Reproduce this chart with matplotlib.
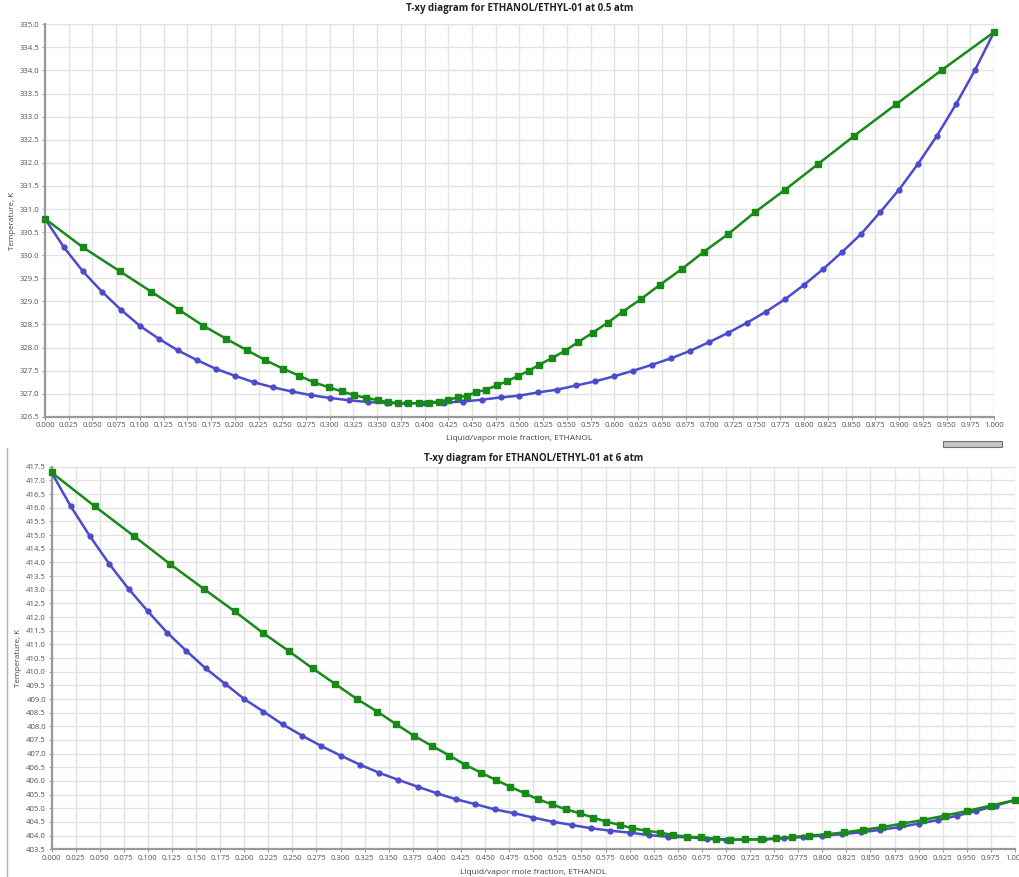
import numpy as np
import matplotlib
matplotlib.use("Agg")
import matplotlib.pyplot as plt
from matplotlib.ticker import MultipleLocator, FormatStrFormatter
from matplotlib.patches import Rectangle
from matplotlib.lines import Line2D

plt.rcParams['font.family'] = ['Open Sans', 'DejaVu Sans']

# liquid mole fraction grid (same for both pressures)
x_liq = [0.00, 0.02, 0.04, 0.06, 0.08, 0.10, 0.12, 0.14, 0.16, 0.18,
         0.20, 0.22, 0.24, 0.26, 0.28, 0.30, 0.32, 0.34, 0.36, 0.38,
         0.40, 0.42, 0.44, 0.46, 0.48, 0.50, 0.52, 0.54, 0.56, 0.58,
         0.60, 0.62, 0.64, 0.66, 0.68, 0.70, 0.72, 0.74, 0.76, 0.78,
         0.80, 0.82, 0.84, 0.86, 0.88, 0.90, 0.92, 0.94, 0.96, 0.98, 1.00]

# 0.5 atm
T_05 = [330.79, 330.17, 329.65, 329.21, 328.82, 328.47, 328.19, 327.94, 327.73, 327.54,
        327.39, 327.25, 327.14, 327.05, 326.97, 326.91, 326.86, 326.82, 326.80, 326.79,
        326.80, 326.81, 326.83, 326.87, 326.92, 326.96, 327.03, 327.09, 327.18, 327.27,
        327.38, 327.50, 327.63, 327.77, 327.93, 328.12, 328.32, 328.54, 328.78, 329.05,
        329.36, 329.70, 330.07, 330.46, 330.93, 331.42, 331.98, 332.59, 333.27, 334.01, 334.83]
y_05 = [0.000, 0.040, 0.079, 0.112, 0.141, 0.167, 0.191, 0.213, 0.232, 0.251,
        0.268, 0.283, 0.299, 0.313, 0.326, 0.338, 0.351, 0.361, 0.372, 0.383,
        0.394, 0.405, 0.415, 0.425, 0.435, 0.445, 0.454, 0.465, 0.476, 0.487,
        0.498, 0.510, 0.521, 0.534, 0.548, 0.562, 0.577, 0.593, 0.609, 0.628,
        0.648, 0.671, 0.694, 0.720, 0.748, 0.780, 0.815, 0.853, 0.897, 0.945, 1.000]

# 6 atm
T_6 = [417.29, 416.05, 414.95, 413.94, 413.03, 412.21, 411.43, 410.76, 410.12, 409.56,
       409.00, 408.54, 408.07, 407.66, 407.28, 406.93, 406.60, 406.30, 406.04, 405.79,
       405.55, 405.33, 405.15, 404.96, 404.82, 404.66, 404.51, 404.39, 404.27, 404.18,
       404.11, 404.02, 403.96, 403.94, 403.88, 403.85, 403.86, 403.86, 403.90, 403.95,
       404.00, 404.05, 404.12, 404.21, 404.31, 404.44, 404.57, 404.73, 404.90, 405.10, 405.30]
y_6 = [0.000, 0.045, 0.086, 0.123, 0.158, 0.190, 0.219, 0.246, 0.271, 0.294,
       0.317, 0.338, 0.358, 0.376, 0.395, 0.413, 0.429, 0.446, 0.461, 0.476,
       0.491, 0.505, 0.519, 0.534, 0.548, 0.562, 0.576, 0.590, 0.603, 0.617,
       0.632, 0.645, 0.660, 0.674, 0.690, 0.704, 0.720, 0.736, 0.752, 0.769,
       0.786, 0.805, 0.823, 0.842, 0.862, 0.883, 0.904, 0.927, 0.950, 0.975, 1.000]

titles = ["T-xy diagram for ETHANOL/ETHYL-01 at 0.5 atm",
          "T-xy diagram for ETHANOL/ETHYL-01 at 6 atm"]

blue = "#4b4bcc"
green = "#178a17"
grid_c = "#e3e3e3"
spine_c = "#9a9a9a"
tick_c = "#555555"

fig = plt.figure(figsize=(10.2, 8.77), dpi=100)
fig.patch.set_facecolor("white")

ax1 = fig.add_axes([0.0441, 0.5247, 0.9304, 0.4476])
ax2 = fig.add_axes([0.0505, 0.0316, 0.9446, 0.4362])

def style(ax, ylo, yhi, title, title_y, xlab_y, ylab_x):
    ax.set_xlim(0, 1)
    ax.set_ylim(ylo, yhi)
    ax.xaxis.set_major_locator(MultipleLocator(0.025))
    ax.yaxis.set_major_locator(MultipleLocator(0.5))
    ax.xaxis.set_major_formatter(FormatStrFormatter("%.3f"))
    ax.yaxis.set_major_formatter(FormatStrFormatter("%.1f"))
    ax.grid(True, color=grid_c, linewidth=1.0, zorder=0)
    ax.set_axisbelow(True)
    for s in ["top", "right"]:
        ax.spines[s].set_visible(False)
    for s in ["left", "bottom"]:
        ax.spines[s].set_color(spine_c)
        ax.spines[s].set_linewidth(1.6)
    ax.tick_params(axis="both", labelsize=5.6, colors=spine_c, labelcolor=tick_c,
                   length=2.5, width=0.8, pad=1.5)
    # light frame on top/right like the grid
    ax.axhline(yhi, color=grid_c, linewidth=1.0, zorder=0)
    ax.axvline(1.0, color=grid_c, linewidth=1.0, zorder=0)
    pos = ax.get_position()
    cx = (pos.x0 + pos.x1) / 2
    fig.text(cx, title_y, title, ha="center", va="center", fontsize=7,
             fontweight="bold", color="#222222")
    fig.text(cx, xlab_y, "Liquid/vapor mole fraction, ETHANOL", ha="center",
             va="center", fontsize=6, color="#444444")
    fig.text(ylab_x, (pos.y0 + pos.y1) / 2, "Temperature, K", ha="center",
             va="center", rotation=90, fontsize=5.8, color="#444444")

style(ax1, 326.5, 335.0, titles[0], 1 - 9 / 877, 1 - 438 / 877, 13 / 1020)
style(ax2, 403.5, 417.5, titles[1], 1 - 458 / 877, 1 - 872 / 877, 19 / 1020)

for ax, T, y in [(ax1, T_05, y_05), (ax2, T_6, y_6)]:
    ax.plot(x_liq, T, color=blue, linewidth=1.8, marker="o", markersize=3.5,
            zorder=3, clip_on=False)
    ax.plot(y, T, color=green, linewidth=1.8, marker="s", markersize=4.0,
            zorder=4, clip_on=False)

# window decorations between the two screenshots
fig.add_artist(Line2D([7 / 1020, 7 / 1020], [0, 1 - 448 / 877],
                      transform=fig.transFigure, color="#b0b0b0", linewidth=1))
fig.add_artist(Rectangle((943 / 1020, 1 - 447 / 877), 59 / 1020, 6 / 877,
                         transform=fig.transFigure, facecolor="#c6c6c6",
                         edgecolor="#707070", linewidth=0.8))

fig.savefig("out.png", dpi=100)
